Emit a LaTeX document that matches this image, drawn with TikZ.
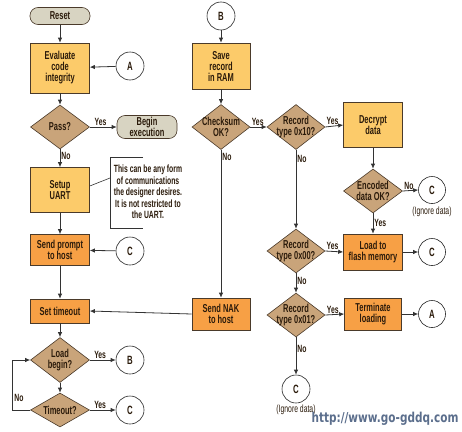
\documentclass[tikz,border=0pt]{standalone}
\usepackage{fontspec}
\setmainfont{Liberation Sans}[FakeStretch=0.65]
\newfontfamily\wmfont{DejaVu Sans}
\usetikzlibrary{shapes.geometric,arrows.meta}
\definecolor{lcol}{HTML}{FCCB6A}
\definecolor{ocol}{HTML}{F7A045}
\definecolor{dcol}{HTML}{C9A47A}
\definecolor{tcol}{HTML}{D8D4C2}
\definecolor{txt}{HTML}{2B1B0B}
\definecolor{edgec}{HTML}{4A3A2A}
\definecolor{wmc}{HTML}{5B6E8C}
\begin{document}
\begin{tikzpicture}[x=1pt,y=-1pt,
  every node/.style={text=txt},
  bx/.style={rectangle, draw=edgec, line width=0.6pt, minimum width=59pt, inner sep=1pt, align=center,
    font=\bfseries\fontsize{11.5}{11}\selectfont},
  lbox/.style={bx, fill=lcol},
  obox/.style={bx, fill=ocol},
  term/.style={rectangle, rounded corners=8pt, draw=edgec, line width=0.6pt, fill=tcol, minimum width=60pt,
    inner sep=1pt, align=center, font=\bfseries\fontsize{11.5}{11}\selectfont},
  dec/.style={diamond, draw=edgec, line width=0.6pt, fill=dcol, minimum width=59pt, minimum height=44pt, inner sep=0pt},
  dtext/.style={align=center, font=\bfseries\fontsize{11.5}{11}\selectfont, inner sep=0pt},
  conn/.style={circle, draw=black!85, line width=0.6pt, fill=white, minimum size=28pt, inner sep=0pt,
    font=\bfseries\fontsize{12}{12}\selectfont},
  arr/.style={draw=black!80, line width=0.8pt, -{Latex[length=5pt,width=4.5pt]}},
  ln/.style={draw=black!80, line width=0.8pt},
  yn/.style={font=\bfseries\fontsize{10.5}{10}\selectfont, inner sep=1pt},
  small/.style={font=\bfseries\fontsize{10.5}{11.6}\selectfont, align=center, inner sep=0pt}
]
\useasboundingbox (0,0) rectangle (462,431);

% ---------- left column ----------
\node[term, minimum height=17pt] (reset) at (60,16) {Reset};
\node[lbox, minimum height=50pt] (eval) at (60,68) {Evaluate\\code\\integrity};
\node[conn] (a1) at (130,66) {A};
\node[dec, label={[dtext]center:Pass?}] (pass) at (60,127) {};
\node[term, minimum height=23pt] (begin) at (147,127) {Begin\\execution};
\node[lbox, minimum height=45pt] (uart) at (60,190) {Setup\\UART};
\node[small] (note) at (148,192) {This can be any form\\of communications\\the designer desires.\\It is not restricted to\\the UART.};
\coordinate (nt) at (143,157);
\coordinate (ntl) at (110,157);
\coordinate (nbl) at (110,228);
\coordinate (nb) at (143,228);
\coordinate (nl) at (110,178);
\node[obox, minimum height=31pt] (prompt) at (60,250) {Send prompt\\to host};
\node[conn] (c1) at (130,251) {C};
\node[obox, minimum height=24pt] (tout) at (60,311) {Set timeout};
\node[dec, minimum height=45pt, label={[dtext]center:Load\\begin?}] (load) at (60,360) {};
\node[conn] (b2) at (130,360) {B};
\node[dec, minimum height=34pt, label={[dtext]center:Timeout?}] (tmo) at (60,410) {};
\node[conn] (c2) at (130,410) {C};
\coordinate (lp) at (12,410);

% ---------- middle column ----------
\node[conn] (b1) at (221,16) {B};
\node[lbox, minimum width=58pt, minimum height=46pt] (save) at (221,66) {Save\\record\\in RAM};
\node[dec, minimum width=58pt, minimum height=45pt, label={[dtext]center:Checksum\\OK?}] (chk) at (221,127) {};
\node[obox, minimum width=58pt, minimum height=32pt] (nak) at (221,314) {Send NAK\\to host};
\node[dec, minimum width=58pt, minimum height=45pt, label={[dtext]center:Record\\type 0x10?}] (r10) at (296,127) {};
\node[dec, minimum width=58pt, minimum height=44pt, label={[dtext]center:Record\\type 0x00?}] (r00) at (296,251) {};
\node[dec, minimum width=58pt, minimum height=44pt, label={[dtext]center:Record\\type 0x01?}] (r01) at (296,315) {};
\node[conn] (c3) at (296,389) {C};
\node[yn, font=\fontsize{10.5}{10}\selectfont] (ig1) at (296,410) {(Ignore data)};

% ---------- right column ----------
\node[lbox, minimum height=45pt] (decr) at (373,125) {Decrypt\\data};
\node[dec, minimum height=44pt, label={[dtext]center:Encoded\\data OK?}] (enc) at (373,191) {};
\node[conn, minimum size=27pt] (c4) at (432,190) {C};
\node[yn, font=\fontsize{10.5}{10}\selectfont] (ig2) at (432,212) {(Ignore data)};
\node[obox, minimum height=36pt] (flash) at (373,252) {Load to\\flash memory};
\node[conn, minimum size=27pt] (c5) at (432,252) {C};
\node[obox, minimum width=57pt, minimum height=32pt] (termi) at (373,314) {Terminate\\loading};
\node[conn, minimum size=27pt] (a2) at (432,314) {A};

% watermark
\node[text=wmc, inner sep=0pt] (wm) at (385,419)
  {\scalebox{1}[1.3]{\wmfont\bfseries\fontsize{10.5}{11}\selectfont http://www.go-gddq.com}};

% ---------- connectors ----------
\draw[arr] (reset) -- (eval);
\draw[arr] (a1) -- (eval);
\draw[arr] (eval) -- (pass);
\draw[arr] (pass.east) -- node[yn, above, pos=0.4] (y1) {Yes} (begin.west);
\draw[arr] (pass.south) -- node[yn, right, pos=0.35] (n1) {No} (uart.north);
\draw[ln, line width=0.6pt] ([yshift=4pt]uart.east) -- (nl);
\draw[ln, line width=0.6pt] (nt) -- (ntl) -- (nbl) -- (nb);
\draw[arr] (uart) -- (prompt);
\draw[arr] (c1) -- (prompt);
\draw[arr] (prompt) -- (tout);
\draw[arr] (tout) -- (load);
\draw[arr] (load.east) -- node[yn, above, pos=0.4] (y2) {Yes} (b2.west);
\draw[arr] (load.south) -- (tmo.north);
\draw[arr] (tmo.east) -- node[yn, above, pos=0.4] (y3) {Yes} (c2.west);
\draw[arr] (tmo.west) -- (lp) |- node[yn, pos=0.12, right, xshift=1pt] (n2) {No} (load.west);

\draw[arr] (b1) -- (save);
\draw[arr] (save) -- (chk);
\draw[arr] (chk.east) -- node[yn, above, pos=0.45] (y4) {Yes} (r10.west);
\draw[arr] (chk.south) -- node[yn, right, pos=0.05] (n3) {No} (nak.north);
\draw[arr] (nak.west) -- (tout.east);
\draw[arr] (r10.east) -- node[yn, above, pos=0.4] (y5) {Yes} (decr.west);
\draw[arr] (r10.south) -- node[yn, right, pos=0.12] (n4) {No} (r00.north);
\draw[arr] (r00.east) -- node[yn, above, pos=0.4] (y6) {Yes} (flash.west);
\draw[arr] (r00.south) -- node[yn, right, pos=0.4] (n5) {No} (r01.north);
\draw[arr] (r01.east) -- node[yn, above, pos=0.4] (y7) {Yes} (termi.west);
\draw[arr] (r01.south) -- node[yn, right, pos=0.3] (n6) {No} (c3.north);
\draw[arr] (decr) -- (enc);
\draw[arr] (enc.east) -- node[yn, above, pos=0.4] (n7) {No} (c4.west);
\draw[arr] (enc.south) -- node[yn, right, pos=0.45] (y8) {Yes} (flash.north);
\draw[arr] (flash) -- (c5);
\draw[arr] (termi) -- (a2);
\end{tikzpicture}
\end{document}
